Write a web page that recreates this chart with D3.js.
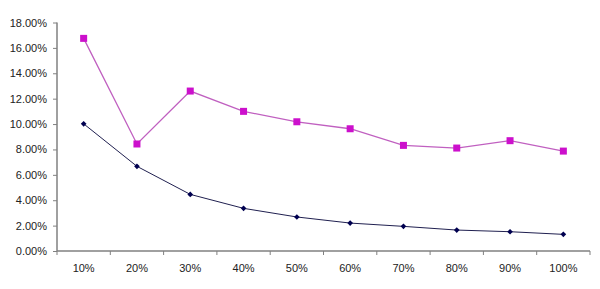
<!DOCTYPE html>
<html><head><meta charset="utf-8">
<script src="https://cdn.jsdelivr.net/npm/d3@7/dist/d3.min.js"></script>
<style>body{margin:0;background:#fff}svg text{font-family:"Liberation Sans",Arial,sans-serif;font-size:11px;fill:#222}</style>
</head><body><svg id="c" width="600" height="289"></svg>
<script>
const categories = ["10%","20%","30%","40%","50%","60%","70%","80%","90%","100%"];
const seriesPink = [16.75, 8.43, 12.6, 11.0, 10.18, 9.63, 8.32, 8.11, 8.69, 7.87];
const seriesNavy = [10.02, 6.67, 4.46, 3.36, 2.68, 2.2, 1.94, 1.65, 1.52, 1.31];
const yTicks = [0,2,4,6,8,10,12,14,16,18];

(function(){
const svg = d3.select("#c");
const mLeft = 57, mRight = 590, mTop = 22.5, mBottom = 251;
const x = d3.scaleBand().domain(categories).range([mLeft, mRight]);
const y = d3.scaleLinear().domain([0, 18]).range([mBottom, mTop]);

const yAxis = svg.append("g").attr("transform", `translate(${mLeft},0)`)
  .call(d3.axisLeft(y).tickValues(yTicks).tickFormat(d => d.toFixed(2) + "%").tickSize(4).tickPadding(6));
const xAxis = svg.append("g").attr("transform", `translate(0,${mBottom})`)
  .call(d3.axisBottom(x).tickSize(0).tickPadding(13));
const bounds = categories.map(c => x(c)).concat([mRight]);
xAxis.selectAll(".bt").data(bounds).enter().append("line")
  .attr("x1", d => d).attr("x2", d => d).attr("y1", 0).attr("y2", 4)
  .attr("stroke", "#808080");
[yAxis, xAxis].forEach(a => {
  a.selectAll(".domain").attr("stroke", "#808080").attr("stroke-width", 1.5);
  a.selectAll(".tick line").attr("stroke", "#808080");
  a.selectAll("text").style("fill", "#222").style("font-size", "11px");
});
xAxis.select(".domain").attr("d", `M${mLeft},0H${mRight}`);
yAxis.select(".domain").attr("d", `M0,${mTop}V${mBottom}`);

const cx = c => x(c) + x.bandwidth() / 2;
const line = d3.line().x((d, i) => cx(categories[i])).y(d => y(d));

svg.append("path").datum(seriesPink).attr("d", line).attr("fill", "none")
  .attr("stroke", "#c060c0").attr("stroke-width", 1.3);
svg.append("path").datum(seriesNavy).attr("d", line).attr("fill", "none")
  .attr("stroke", "#202050").attr("stroke-width", 1);

svg.selectAll(".sq").data(seriesPink).enter().append("rect")
  .attr("x", (d, i) => cx(categories[i]) - 3.5).attr("y", d => y(d) - 3.5)
  .attr("width", 7).attr("height", 7).attr("fill", "#cc10cc");
svg.selectAll(".dm").data(seriesNavy).enter().append("path")
  .attr("d", d3.symbol(d3.symbolSquare, 16))
  .attr("transform", (d, i) => `translate(${cx(categories[i])},${y(d)}) rotate(45)`)
  .attr("fill", "#000050");
})();
</script></body></html>
